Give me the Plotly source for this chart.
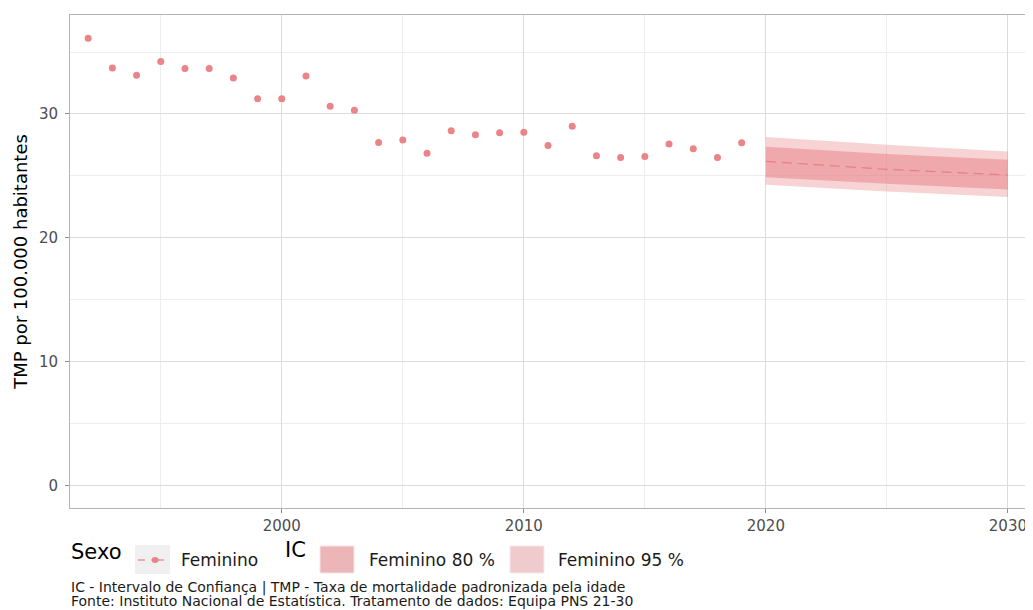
import plotly.graph_objects as go

# ---------------- data ----------------
anos_obs = list(range(1992, 2020))
tmp_feminino = [36.12, 33.71, 33.13, 34.23, 33.67, 33.67, 32.91, 31.22, 31.22, 33.07,
                30.62, 30.30, 27.70, 27.89, 26.83, 28.64, 28.32, 28.48, 28.53, 27.46,
                29.01, 26.63, 26.49, 26.57, 27.57, 27.19, 26.49, 27.67]

anos_prev = [2020, 2025, 2030]
prev_media = [26.17, 25.53, 25.08]
prev_lo80 = [24.89, 24.36, 23.90]
prev_hi80 = [27.35, 26.77, 26.31]
prev_lo95 = [24.28, 23.74, 23.29]
prev_hi95 = [28.15, 27.51, 26.98]

x_ticks = [2000, 2010, 2020, 2030]
x_minor = [1995, 2005, 2015, 2025]
y_ticks = [0, 10, 20, 30]
y_minor = [5, 15, 25, 35]

y_title = "TMP por 100.000 habitantes"
leg_sexo_title = "Sexo"
leg_sexo_item = "Feminino"
leg_ic_title = "IC"
leg_ic_80 = "Feminino 80 %"
leg_ic_95 = "Feminino 95 %"
caption_1 = "IC - Intervalo de Confiança | TMP - Taxa de mortalidade padronizada pela idade"
caption_2 = "Fonte: Instituto Nacional de Estatística. Tratamento de dados: Equipa PNS 21-30"

# ---------------- style ----------------
# the page body adds an 8px margin, so the figure is drawn 8px smaller and
# every position below is given in window pixels and shifted back by OFF.
OFF = 8
WIN_W, WIN_H = 1033, 610
W, H = WIN_W - OFF, WIN_H - OFF
P_LEFT, P_RIGHT, P_TOP, P_BOTTOM = 70, 1028, 15, 508   # panel in window pixels
ML, MR, MT, MB = P_LEFT - OFF, WIN_W - P_RIGHT, P_TOP - OFF, WIN_H - P_BOTTOM
PW, PH = W - ML - MR, H - MT - MB
FONT = "DejaVu Sans"
C_POINT = "#EA8488"
C_LINE = "#E57F84"
C_95 = "rgba(232,128,133,0.35)"
C_80 = "rgba(232,128,133,0.5)"
C_95_KEY = "#F0CBCE"
C_80_KEY = "#ECB6B8"


def px(p):
    return (p - P_LEFT) / PW


def py(p):
    return (P_BOTTOM - p) / PH


fig = go.Figure()

# 95% band
fig.add_trace(go.Scatter(x=anos_prev + anos_prev[::-1], y=prev_hi95 + prev_lo95[::-1],
                         fill="toself", fillcolor=C_95, line=dict(width=0),
                         mode="lines", hoverinfo="skip", showlegend=False))
# 80% band
fig.add_trace(go.Scatter(x=anos_prev + anos_prev[::-1], y=prev_hi80 + prev_lo80[::-1],
                         fill="toself", fillcolor=C_80, line=dict(width=0),
                         mode="lines", hoverinfo="skip", showlegend=False))
# forecast mean
fig.add_trace(go.Scatter(x=anos_prev, y=prev_media, mode="lines",
                         line=dict(color=C_LINE, width=1.2, dash="10px,6px"),
                         showlegend=False))
# observed
fig.add_trace(go.Scatter(x=anos_obs, y=tmp_feminino, mode="markers",
                         marker=dict(color=C_POINT, size=7), showlegend=False))

axis_common = dict(showline=True, mirror=True, linecolor="#B3B3B3", linewidth=1,
                   gridcolor="#DCDCDC", gridwidth=1.2, zeroline=False,
                   ticks="outside", ticklen=4, tickcolor="#8C8C8C",
                   tickfont=dict(family=FONT, size=15, color="#4D4D4D"))

fig.update_xaxes(range=[1991.25, 2030.83], tickvals=x_ticks,
                 minor=dict(tickvals=x_minor, showgrid=True, gridcolor="#EDEDED",
                            gridwidth=1, ticks=""),
                 **axis_common)
fig.update_yaxes(range=[-1.81, 37.99], tickvals=y_ticks, ticklabelstandoff=4,
                 minor=dict(tickvals=y_minor, showgrid=True, gridcolor="#EDEDED",
                            gridwidth=1, ticks=""),
                 title=dict(text=y_title, font=dict(family=FONT, size=18, color="#000000"),
                            standoff=6),
                 **axis_common)

shapes = []
annos = []

# Legend: Sexo
annos.append(dict(text=leg_sexo_title, x=px(69), y=py(552), xanchor="left", yanchor="middle",
                  font=dict(family=FONT, size=21, color="#000000")))
shapes.append(dict(type="rect", xref="paper", yref="paper", x0=px(135), x1=px(170),
                   y0=py(574), y1=py(545), fillcolor="#F0F0F0", line=dict(width=0)))
shapes.append(dict(type="line", xref="paper", yref="paper", x0=px(138), x1=px(145),
                   y0=py(560), y1=py(560), line=dict(color=C_LINE, width=1.2)))
shapes.append(dict(type="line", xref="paper", yref="paper", x0=px(157), x1=px(164),
                   y0=py(560), y1=py(560), line=dict(color=C_LINE, width=1.2)))
shapes.append(dict(type="circle", xref="paper", yref="paper", x0=px(151.5), x1=px(158.5),
                   y0=py(563), y1=py(557), fillcolor=C_POINT, line=dict(width=0)))
annos.append(dict(text=leg_sexo_item, x=px(179), y=py(560), xanchor="left", yanchor="middle",
                  font=dict(family=FONT, size=17, color="#1A1A1A")))

# Legend: IC
annos.append(dict(text=leg_ic_title, x=px(283), y=py(550), xanchor="left", yanchor="middle",
                  font=dict(family=FONT, size=21, color="#000000")))
shapes.append(dict(type="rect", xref="paper", yref="paper", x0=px(320), x1=px(354),
                   y0=py(573), y1=py(546), fillcolor=C_80_KEY, line=dict(color="#F6E4E5", width=1)))
annos.append(dict(text=leg_ic_80, x=px(367), y=py(560), xanchor="left", yanchor="middle",
                  font=dict(family=FONT, size=17, color="#1A1A1A")))
shapes.append(dict(type="rect", xref="paper", yref="paper", x0=px(510), x1=px(544),
                   y0=py(573), y1=py(546), fillcolor=C_95_KEY, line=dict(color="#F8E8E9", width=1)))
annos.append(dict(text=leg_ic_95, x=px(556), y=py(560), xanchor="left", yanchor="middle",
                  font=dict(family=FONT, size=17, color="#1A1A1A")))

# Caption
annos.append(dict(text=caption_1, x=px(69), y=py(587), xanchor="left", yanchor="middle",
                  font=dict(family=FONT, size=14, color="#1A1A1A")))
annos.append(dict(text=caption_2, x=px(69), y=py(601), xanchor="left", yanchor="middle",
                  font=dict(family=FONT, size=14, color="#1A1A1A")))

for a in annos:
    a.update(xref="paper", yref="paper", showarrow=False)

fig.update_layout(width=W, height=H, margin=dict(l=ML, r=MR, t=MT, b=MB),
                  plot_bgcolor="white", paper_bgcolor="white",
                  shapes=shapes, annotations=annos, showlegend=False,
                  font=dict(family=FONT))

fig.write_html("out.html")
